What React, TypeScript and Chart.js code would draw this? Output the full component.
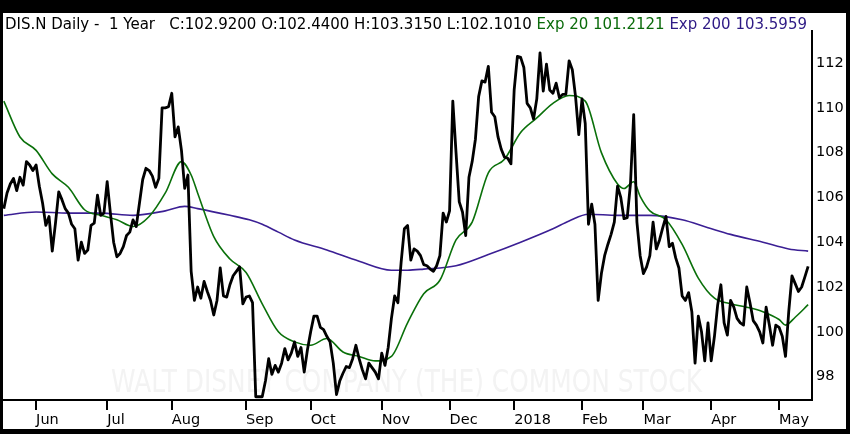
import React, { useEffect, useRef } from "react";
import { Chart, registerables } from "chart.js";

Chart.register(...registerables);

// Daily closes, 250 trading days (mid-May 2017 .. mid-May 2018)
const closes = [
  105.5, 106.2, 106.6, 106.85, 106.3, 106.9, 106.55, 107.6, 107.45, 107.2,
  107.45, 106.5, 105.75, 104.75, 105.15, 103.6, 104.85, 106.25, 105.9, 105.5,
  105.3, 104.8, 104.6, 103.2, 104.0, 103.5, 103.65, 104.75, 104.85, 106.1,
  105.2, 105.3, 106.7, 105.3, 104.0, 103.35, 103.5, 103.8, 104.3, 104.45,
  105.0, 104.7, 105.75, 106.8, 107.3, 107.2, 106.95, 106.45, 106.85, 110.0,
  110.0, 110.05, 110.65, 108.7, 109.15, 108.1, 106.4, 107.0, 102.7, 101.4,
  102.0, 101.5, 102.25, 101.8, 101.4, 100.75, 101.4, 102.85, 101.6, 101.55,
  102.1, 102.5, 102.7, 102.9, 101.25, 101.55, 101.6, 101.3, 97.1, 97.1,
  97.1, 97.8, 98.8, 98.1, 98.5, 98.2, 98.6, 99.25, 98.75, 99.05,
  99.55, 98.9, 99.3, 98.2, 99.2, 100.0, 100.7, 100.7, 100.2, 100.1,
  99.8, 99.55, 98.6, 97.2, 97.8, 98.15, 98.45, 98.4, 98.8, 99.4,
  98.8, 98.3, 97.9, 98.6, 98.4, 98.2, 97.9, 99.05, 98.5, 99.3,
  100.6, 101.6, 101.3, 103.1, 104.6, 104.75, 103.2, 103.7, 103.6, 103.4,
  103.0, 102.95, 102.8, 102.7, 102.95, 103.4, 105.3, 104.9, 105.4, 110.3,
  108.0, 105.8, 105.35, 104.3, 106.9, 107.6, 108.6, 110.5, 111.2, 111.15,
  111.85, 109.8, 109.6, 108.7, 108.15, 107.8, 107.75, 107.5, 110.8, 112.3,
  112.25, 111.8, 110.2, 110.0, 109.5, 110.4, 112.45, 110.75, 111.95, 110.8,
  110.65, 111.1, 110.45, 110.6, 110.6, 112.1, 111.7, 110.5, 108.8, 110.4,
  109.3, 104.8, 105.7, 104.8, 101.4, 102.6, 103.4, 103.9, 104.35, 104.9,
  106.5, 106.0, 105.05, 105.1, 106.6, 109.7, 104.9, 103.4, 102.6, 102.9,
  103.4, 104.9, 103.7, 104.1, 104.65, 105.15, 103.8, 103.95, 103.3, 102.85,
  101.6, 101.4, 101.75, 100.9, 98.6, 100.7, 100.0, 98.7, 100.4, 98.7,
  99.8, 101.2, 102.1, 100.4, 99.85, 101.4, 101.1, 100.6, 100.4, 100.3,
  102.0, 101.3, 100.5, 100.3, 100.0, 99.5, 101.1, 100.3, 99.4, 100.3,
  100.2, 99.8, 98.9, 100.9, 102.5, 102.15, 101.8, 102.0, 102.45, 102.92,
];

// Exp 20 moving average, read at selected trading days
const ema20Days = [
  0, 5, 10, 15, 20, 25, 30, 35, 40, 45, 50, 55, 58, 60, 65, 70, 75, 80, 85, 90,
  95, 100, 105, 110, 115, 120, 125, 130, 135, 140, 145, 150, 155, 160, 165, 170,
  175, 180, 185, 190, 192, 195, 197, 200, 205, 210, 215, 220, 225, 230, 235, 240,
  242, 245, 249,
];
const ema20Values = [
  110.3, 108.7, 108.1, 107.05, 106.45, 105.45, 105.2, 105.0, 104.7, 105.15, 106.2,
  107.6, 107.0, 106.2, 104.25, 103.25, 102.65, 101.25, 100.0, 99.55,
  99.4, 99.7, 99.1, 98.9, 98.7, 98.9, 100.4, 101.7, 102.3, 104.1, 104.9, 107.1,
  107.7, 108.9, 109.55, 110.2, 110.55, 110.3, 108.0, 106.6, 106.4, 106.7, 106.05,
  105.4, 105.0, 103.9, 102.4, 101.5, 101.25, 101.1, 100.9, 100.55, 100.3, 100.65,
  101.21,
];

// Exp 200 moving average, read at selected trading days
const ema200Days = [
  0, 10, 20, 30, 40, 50, 56, 60, 70, 76, 80, 85, 90, 100, 110, 120, 125, 130,
  140, 150, 160, 170, 175, 181, 190, 200, 210, 218, 225, 235, 243, 249,
];
const ema200Values = [
  105.2, 105.35, 105.3, 105.3, 105.2, 105.4, 105.6, 105.5, 105.2, 105.0, 104.8,
  104.45, 104.1, 103.65, 103.15, 102.75, 102.75, 102.8, 102.95, 103.45, 104.0,
  104.6, 104.95, 105.25, 105.2, 105.2, 105.0, 104.65, 104.35, 104.0, 103.7, 103.6,
];

const monthTickDays = [10, 32, 52, 75, 95, 117, 138, 158, 179, 198, 219, 240];
const monthTickLabels = ["Jun", "Jul", "Aug", "Sep", "Oct", "Nov", "Dec", "2018", "Feb", "Mar", "Apr", "May"];
const priceTicks = [98, 100, 102, 104, 106, 108, 110, 112];

const headerParts = [
  { text: "DIS.N Daily -  1 Year   C:102.9200 O:102.4400 H:103.3150 L:102.1010 ", color: "#000000" },
  { text: "Exp 20 101.2121 ", color: "#0b6b0b" },
  { text: "Exp 200 103.5959", color: "#2e1a85" },
];
const watermarkText = "WALT DISNEY COMPANY (THE) COMMON STOCK";

const FONT = '"DejaVu Sans", sans-serif';

const watermarkPlugin = {
  id: "watermark",
  beforeDatasetsDraw(chart: any) {
    const { ctx, chartArea } = chart;
    ctx.save();
    ctx.font = `32px ${FONT}`;
    ctx.fillStyle = "#f3f3f3";
    ctx.textAlign = "center";
    ctx.textBaseline = "alphabetic";
    ctx.fillText(watermarkText, (chartArea.left + chartArea.right) / 2 - 1, chartArea.bottom - 8, 591);
    ctx.restore();
  },
};

export default function App() {
  const ref = useRef<HTMLCanvasElement>(null);

  useEffect(() => {
    document.body.style.margin = "0";
    const chart = new Chart(ref.current as HTMLCanvasElement, {
      type: "line",
      data: {
        datasets: [
          {
            label: "Close",
            data: closes.map((y, x) => ({ x, y })),
            borderColor: "#000000",
            borderWidth: 2.8,
            pointRadius: 0,
            tension: 0,
            borderJoinStyle: "round",
            order: 0,
          },
          {
            label: "Exp 20",
            data: ema20Days.map((x, i) => ({ x, y: ema20Values[i] })),
            borderColor: "#0a700a",
            borderWidth: 1.6,
            pointRadius: 0,
            cubicInterpolationMode: "monotone",
            order: 1,
          },
          {
            label: "Exp 200",
            data: ema200Days.map((x, i) => ({ x, y: ema200Values[i] })),
            borderColor: "#3b1f94",
            borderWidth: 1.6,
            pointRadius: 0,
            cubicInterpolationMode: "monotone",
            order: 2,
          },
        ],
      } as any,
      options: {
        animation: false,
        responsive: false,
        layout: { padding: { top: 18, left: 0, right: 0, bottom: 0 } },
        plugins: {
          legend: { display: false },
          tooltip: { enabled: false },
        },
        scales: {
          x: {
            type: "linear",
            min: -0.25,
            max: 250.2,
            afterBuildTicks: (s: any) => {
              s.ticks = monthTickDays.map((v) => ({ value: v }));
            },
            afterFit: (s: any) => {
              s.height = 29;
            },
            ticks: {
              autoSkip: false,
              maxRotation: 0,
              align: "start",
              padding: 2,
              color: "#000",
              font: { family: FONT, size: 14.5 },
              callback: (v: any) => {
                const k = monthTickDays.indexOf(Number(v));
                return k >= 0 ? monthTickLabels[k] : "";
              },
            },
            grid: { drawOnChartArea: false, drawTicks: true, tickLength: 10, color: "#000", lineWidth: 2 },
            border: { display: true, color: "#000", width: 2 },
          },
          y: {
            type: "linear",
            position: "right",
            min: 96.955,
            max: 113.43,
            afterBuildTicks: (s: any) => {
              s.ticks = priceTicks.map((v) => ({ value: v }));
            },
            afterFit: (s: any) => {
              s.width = 34;
            },
            ticks: {
              padding: 4,
              color: "#000",
              font: { family: FONT, size: 14.5 },
              callback: (v: any) => String(v),
            },
            grid: { drawOnChartArea: false, drawTicks: false },
            border: { display: true, color: "#000", width: 2 },
          },
        },
      } as any,
      plugins: [watermarkPlugin],
    });
    return () => chart.destroy();
  }, []);

  return (
    <div style={{ position: "relative", width: 850, height: 434, background: "#000", overflow: "hidden" }}>
      <div style={{ position: "absolute", left: 3, top: 13, width: 843, height: 416, background: "#fff" }}>
        <canvas ref={ref} width={843} height={416} style={{ display: "block", width: 843, height: 416 }} />
        <div
          style={{
            position: "absolute",
            left: 2,
            top: 2,
            fontFamily: FONT,
            fontSize: 15,
            whiteSpace: "pre",
            lineHeight: "normal",
          }}
        >
          {headerParts.map((p, i) => (
            <span key={i} style={{ color: p.color }}>
              {p.text}
            </span>
          ))}
        </div>
      </div>
    </div>
  );
}
